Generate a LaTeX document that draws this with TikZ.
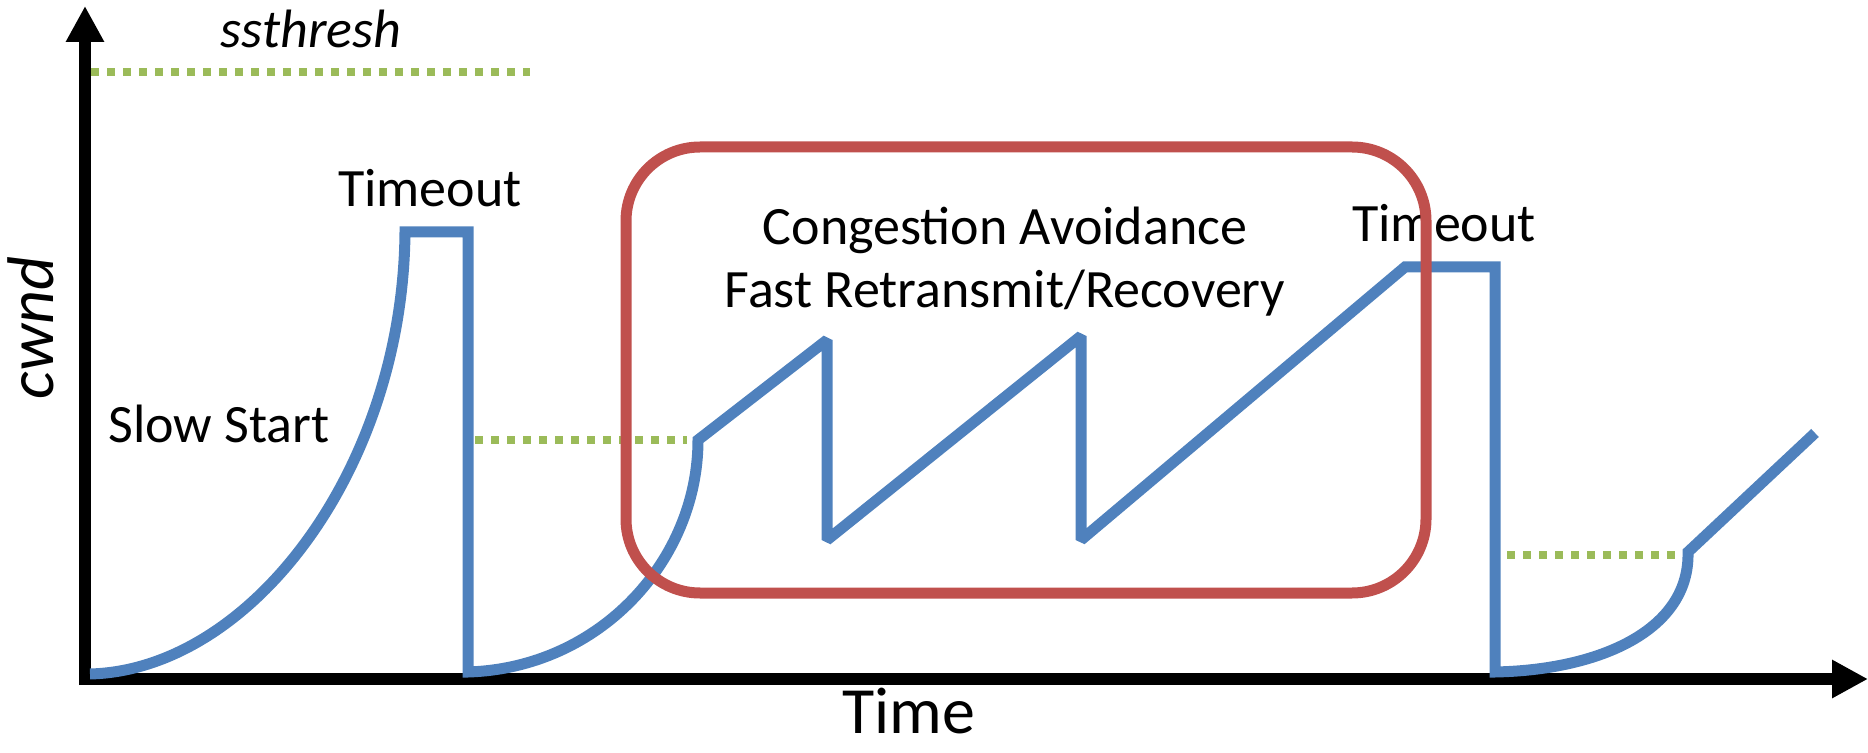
\documentclass[tikz,border=0pt]{standalone}
\usepackage{fontspec}
\setmainfont{Carlito}
\usetikzlibrary{arrows.meta}
\definecolor{cwndblue}{HTML}{4F81BD}
\definecolor{phasered}{HTML}{C0504D}
\definecolor{threshgreen}{HTML}{9BBB59}
\begin{document}
\begin{tikzpicture}[x=0.5pt,y=-0.5pt,
  axis/.style={line width=6pt, -{Triangle[length=18pt,width=18pt]}},
  window/.style={cwndblue, line width=5.5pt, line join=miter, miter limit=1.5},
  thresh/.style={threshgreen, line width=3.75pt, dash pattern=on 3.75pt off 4.25pt},
  phase/.style={phasered, line width=5.5pt, rounded corners=37pt},
  label/.style={font=\fontsize{27}{27}\selectfont, inner sep=0pt, anchor=base},
  biglabel/.style={font=\fontsize{33}{33}\selectfont, inner sep=0pt, anchor=base}]
\useasboundingbox (0,0) rectangle (1868,753);

% axes
\coordinate (origin) at (85,679);
\coordinate (ytop) at (85,6);
\coordinate (xend) at (1868,679);
\draw[axis] (85,685) -- (ytop);
\draw[axis] (79,679) -- (xend);

% ssthresh levels
\draw[thresh] (91,72) -- (530,72);
\draw[thresh] (475,440) -- (687,440);
\draw[thresh] (1507,555) -- (1675,555);

% congestion window over time
\draw[window] (90,674) .. controls (250,670) and (403,470) .. (405,232)
  -- (468,232) -- (468,672)
  .. controls (600,668) and (698,560) .. (698,440)
  -- (827,340) -- (827,540) -- (1081,336) -- (1081,540)
  -- (1405,267) -- (1495,267) -- (1495,672)
  .. controls (1600,670) and (1690,630) .. (1688,552)
  -- (1815,433);

% labels
\node[label] (ssth) at (311,48) {\itshape ssthresh};
\node[label] (to1) at (430,207) {Timeout};
\node[biglabel, rotate=90] (cwnd) at (54,328) {\itshape cwnd};
\node[label] (ss) at (219,443) {Slow Start};
\node[label] (ca) at (1005,245) {Congestion Avoidance};
\node[label] (fr) at (1005,308) {Fast Retransmit/Recovery};
\node[label] (to2) at (1444,242) {Timeout};
\node[biglabel] (time) at (909,733) {Time};

% congestion avoidance phase
\draw[phase] (626,147) rectangle (1426,593);
\end{tikzpicture}
\end{document}
